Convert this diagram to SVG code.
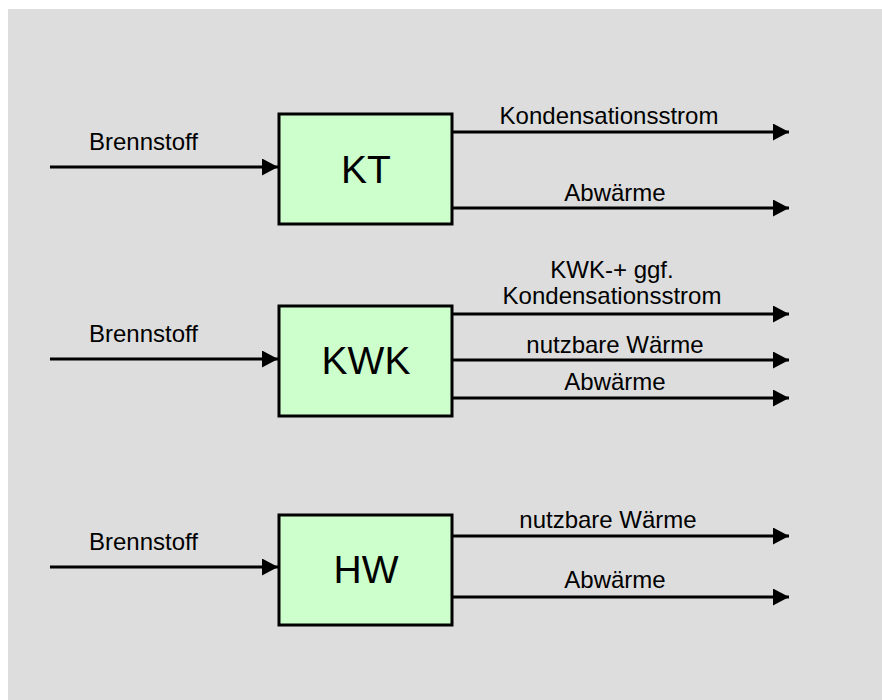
<svg xmlns="http://www.w3.org/2000/svg" width="882" height="700" viewBox="0 0 882 700">
<defs>
<style>
.box{fill:#ccffcc;stroke:#000;stroke-width:3}
.lbl{font-family:"Liberation Sans",Arial,sans-serif;font-size:24px;fill:#000}
.big{font-family:"Liberation Sans",Arial,sans-serif;font-size:39px;fill:#000;text-anchor:middle}
.c{text-anchor:middle}
.ln{stroke:#000;stroke-width:3;fill:none;marker-end:url(#ah)}
</style>
<marker id="ah" markerUnits="userSpaceOnUse" markerWidth="17" markerHeight="18" refX="16" refY="8.5" orient="auto">
<path d="M0,0 L16,8.5 L0,17 Z" fill="#000"/>
</marker>
</defs>
<rect x="0" y="0" width="882" height="700" fill="#ffffff"/>
<rect x="8" y="9" width="874" height="691" fill="#dddddd"/>
<g id="connectors">
<line class="ln" x1="50" y1="167" x2="278" y2="167"/>
<line class="ln" x1="452" y1="132" x2="789" y2="132"/>
<line class="ln" x1="452" y1="208" x2="789" y2="208"/>
<line class="ln" x1="50" y1="359" x2="278" y2="359"/>
<line class="ln" x1="452" y1="314" x2="789" y2="314"/>
<line class="ln" x1="452" y1="360" x2="789" y2="360"/>
<line class="ln" x1="452" y1="398" x2="789" y2="398"/>
<line class="ln" x1="50" y1="567" x2="278" y2="567"/>
<line class="ln" x1="452" y1="536" x2="789" y2="536"/>
<line class="ln" x1="452" y1="597" x2="789" y2="597"/>
<text class="lbl" x="89" y="150">Brennstoff</text>
<text class="lbl c" x="609" y="124">Kondensationsstrom</text>
<text class="lbl c" x="615" y="201">Abwärme</text>
<text class="lbl" x="89" y="342">Brennstoff</text>
<text class="lbl c" x="612" y="278">KWK-+ ggf.</text>
<text class="lbl c" x="612" y="304">Kondensationsstrom</text>
<text class="lbl c" x="615" y="353">nutzbare Wärme</text>
<text class="lbl c" x="615" y="390">Abwärme</text>
<text class="lbl" x="89" y="550">Brennstoff</text>
<text class="lbl c" x="608" y="528">nutzbare Wärme</text>
<text class="lbl c" x="615" y="588">Abwärme</text>
</g>
<g id="KT">
<rect class="box" x="279" y="114" width="173" height="110"/>
<text class="big" x="366" y="183">KT</text>
</g>
<g id="KWK">
<rect class="box" x="279" y="306" width="173" height="110"/>
<text class="big" x="366" y="374">KWK</text>
</g>
<g id="HW">
<rect class="box" x="279" y="515" width="173" height="110"/>
<text class="big" x="366" y="583">HW</text>
</g>
</svg>
